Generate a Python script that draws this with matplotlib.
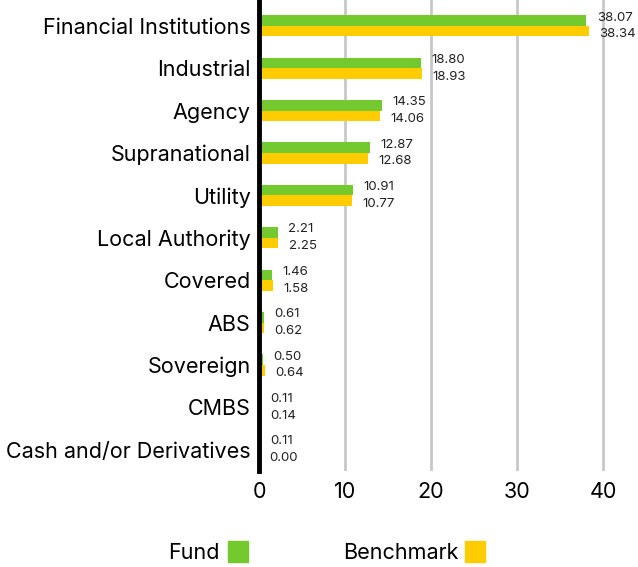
import matplotlib
matplotlib.use("Agg")
import matplotlib.pyplot as plt
from matplotlib.patches import Rectangle
import numpy as np

categories = ["Financial Institutions", "Industrial", "Agency", "Supranational", "Utility",
              "Local Authority", "Covered", "ABS", "Sovereign", "CMBS", "Cash and/or Derivatives"]
fund = [38.07, 18.80, 14.35, 12.87, 10.91, 2.21, 1.46, 0.61, 0.50, 0.11, 0.11]
benchmark = [38.34, 18.93, 14.06, 12.68, 10.77, 2.25, 1.58, 0.62, 0.64, 0.14, 0.00]
xticks = [0, 10, 20, 30, 40]

GREEN = "#73C92D"
YELLOW = "#FFCC00"
FONT = ["Inter", "DejaVu Sans"]
plt.rcParams['font.family'] = FONT

fig = plt.figure(figsize=(6.38, 5.67), dpi=100)
ax = fig.add_axes([259/638, 1 - 471/567, (638-259)/638, 471/567])

y = np.arange(len(categories))
h = 0.25
ax.barh(y - h/2, fund, height=h, color=GREEN, zorder=3)
ax.barh(y + h/2, benchmark, height=h, color=YELLOW, zorder=3)

for i in range(len(categories)):
    ax.annotate(f"{fund[i]:.2f}", (fund[i], y[i] - h/2), xytext=(7.5, 2.2), textcoords="offset points",
                ha="left", va="center", fontsize=9.5, color="#222222")
    ax.annotate(f"{benchmark[i]:.2f}", (benchmark[i], y[i] + h/2), xytext=(7.5, -2.2), textcoords="offset points",
                ha="left", va="center", fontsize=9.5, color="#222222")

ax.set_xlim(0, 44.07)
ax.set_ylim(10.5, -0.61)
ax.set_xticks(xticks)
ax.set_xticklabels([str(t) for t in xticks], fontsize=15.5)
ax.set_yticks(y)
ax.set_yticklabels(categories, fontsize=15.5)
ax.tick_params(axis="x", length=0, pad=8)
ax.tick_params(axis="y", length=0, pad=6)
ax.grid(axis="x", color="#c8c8c8", linewidth=2, zorder=0)
for s in ["top", "right", "bottom"]:
    ax.spines[s].set_visible(False)
ax.spines["left"].set_linewidth(3.5)
ax.spines["left"].set_color("black")
ax.spines["left"].set_zorder(5)

# legend
fig.text(168/638, 1 - 553/567, "Fund", fontsize=15.5, ha="left", va="center")
fig.patches.append(Rectangle((228/638, 1 - 562/567), 20/638, 21/567, transform=fig.transFigure,
                             color=GREEN, figure=fig))
fig.text(343/638, 1 - 553/567, "Benchmark", fontsize=15.5, ha="left", va="center")
fig.patches.append(Rectangle((465/638, 1 - 562/567), 20/638, 21/567, transform=fig.transFigure,
                             color=YELLOW, figure=fig))

fig.savefig("out.png", dpi=100)
